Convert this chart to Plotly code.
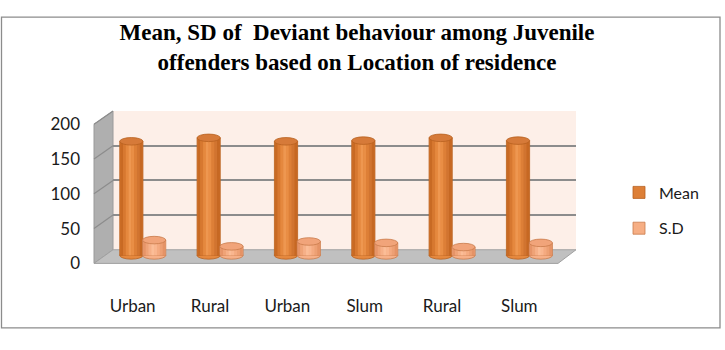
import plotly.graph_objects as go

# ---------------- data ----------------
categories = ["Urban", "Rural", "Urban", "Slum", "Rural", "Slum"]
mean_values = [164, 169, 164, 165, 169, 165]
sd_values = [22, 13, 20, 18, 12, 18]
y_ticks = [0, 50, 100, 150, 200]

W, H = 725, 350


def px(p):
    return p / W


def py(p):
    return 1 - p / H


# geometry of the pseudo-3D box (pixels)
FRONT_L, FRONT_R, FRONT_B, FRONT_T = 94, 558, 268.5, 120.5
BACK_L, BACK_R, BACK_B, BACK_T = 113, 576, 254, 106.5
positions = list(range(len(categories)))

fig = go.Figure()

# invisible anchor traces so the helper axes are drawn
fig.add_trace(go.Scatter(x=[0, 1], y=[0, 200], mode="markers", marker=dict(opacity=0),
                         hoverinfo="skip", showlegend=False, xaxis="x", yaxis="y"))
fig.add_trace(go.Scatter(x=positions, y=mean_values, mode="markers", marker=dict(opacity=0),
                         hoverinfo="skip", showlegend=False, xaxis="x3", yaxis="y3"))

BW = 0.30
series = [
    dict(name="Mean", vals=mean_values, off=-0.29, base="#DD7F37", line="#B8611F",
         grad=["#C86A24", "#D77830", "#E5883E", "#EE9750", "#E98E45", "#DD7F37",
               "#D17430", "#C66823"],
         top="#D67A39", topline="#B8611F"),
    dict(name="S.D", vals=sd_values, off=0.005, base="#F6AE84", line="#C97B4B",
         grad=["#E69468", "#EFA377", "#F6B088", "#FBBD97", "#F9B68F", "#F4AA80",
               "#EDA074", "#E59366"],
         top="#F1A47A", topline="#C97B4B"),
]

shapes = []
# outer border
shapes.append(dict(type="rect", xref="paper", yref="paper", x0=px(1.5), x1=px(720),
                   y0=py(337), y1=py(6.5), line=dict(color="#8C8C8C", width=1.3),
                   fillcolor="rgba(0,0,0,0)", layer="below"))
# back wall
shapes.append(dict(type="rect", xref="paper", yref="paper", x0=px(BACK_L), x1=px(BACK_R),
                   y0=py(BACK_B), y1=py(BACK_T), line=dict(width=0),
                   fillcolor="#FDEFE8", layer="below"))
# left wall
shapes.append(dict(type="path", xref="paper", yref="paper",
                   path=f"M{px(FRONT_L)},{py(FRONT_B)} L{px(FRONT_L)},{py(FRONT_T)} "
                        f"L{px(BACK_L)},{py(BACK_T)} L{px(BACK_L)},{py(BACK_B)} Z",
                   fillcolor="#AFAFAF", line=dict(color="#9A9A9A", width=1), layer="below"))
# floor
shapes.append(dict(type="path", xref="paper", yref="paper",
                   path=f"M{px(FRONT_L)},{py(FRONT_B)} L{px(BACK_L)},{py(BACK_B)} "
                        f"L{px(BACK_R)},{py(BACK_B)} L{px(FRONT_R)},{py(FRONT_B)} Z",
                   fillcolor="#C0C0C0", line=dict(color="#A0A0A0", width=1), layer="below"))
# diagonal gridlines on the left wall, from the tick values
for t in y_ticks[1:]:
    yf = FRONT_B - (FRONT_B - FRONT_T) * t / 200
    yb = BACK_B - (BACK_B - BACK_T) * t / 200
    shapes.append(dict(type="line", xref="paper", yref="paper", x0=px(FRONT_L), y0=py(yf),
                       x1=px(BACK_L), y1=py(yb), line=dict(color="#8C8C8C", width=1.2),
                       layer="below"))

RY = 5.4  # half height of the cylinder ellipses, in data units
for s in series:
    # cylinder body (legend entry)
    fig.add_trace(go.Bar(x=positions, y=s["vals"], width=BW, offset=s["off"], name=s["name"],
                         marker=dict(color=s["base"], line=dict(color=s["line"], width=0.8)),
                         legendgroup=s["name"], xaxis="x2", yaxis="y2"))
    # gradient strips for the cylinder look
    n = len(s["grad"])
    sw = BW * 0.96 / n
    for k, c in enumerate(s["grad"]):
        fig.add_trace(go.Bar(x=positions, y=s["vals"], width=sw * 1.04,
                             offset=s["off"] + BW * 0.02 + k * sw,
                             marker=dict(color=c, line=dict(width=0)), showlegend=False,
                             hoverinfo="skip", legendgroup=s["name"], xaxis="x2", yaxis="y2"))
    for p, v in zip(positions, s["vals"]):
        x0 = p + s["off"]
        x1 = x0 + BW
        # rounded bottom
        shapes.append(dict(type="circle", xref="x2", yref="y2", x0=x0, x1=x1, y0=-RY, y1=RY,
                           fillcolor=s["grad"][2], line=dict(color=s["line"], width=0.8),
                           layer="below"))
        # top face
        shapes.append(dict(type="circle", xref="x2", yref="y2", x0=x0, x1=x1, y0=v - RY,
                           y1=v + RY, fillcolor=s["top"],
                           line=dict(color=s["topline"], width=0.8), layer="above"))

axis_off = dict(showgrid=False, zeroline=False, showline=False, showticklabels=False, ticks="")

fig.update_layout(
    width=W, height=H, autosize=False,
    margin=dict(l=0, r=0, t=0, b=0),
    paper_bgcolor="white", plot_bgcolor="rgba(0,0,0,0)",
    barmode="overlay",
    font=dict(family="Lato", size=17, color="#1A1A1A"),
    title=dict(text="<b>Mean, SD of\u00a0 Deviant behaviour among Juvenile<br>"
                    "offenders based on Location of residence</b>",
               x=px(357), xanchor="center", y=py(40), yanchor="top",
               font=dict(family="Liberation Serif", size=23, color="#000000")),
    # back-wall gridlines
    xaxis=dict(domain=[px(BACK_L), px(BACK_R)], range=[0, 1], anchor="y", **axis_off),
    yaxis=dict(domain=[py(BACK_B), py(BACK_T)], range=[0, 200], tickvals=y_ticks,
               showgrid=True, gridcolor="#8C8C8C", gridwidth=1.5, zeroline=False,
               showline=False, showticklabels=False, ticks="", anchor="x"),
    # bars (mid depth)
    xaxis2=dict(domain=[px(103.5), px(567.5)], range=[-0.5, 5.5], anchor="y2", **axis_off),
    yaxis2=dict(domain=[py(267.4), py(112)], range=[-10, 200], anchor="x2", **axis_off),
    # front-edge labels
    xaxis3=dict(domain=[px(FRONT_L), px(FRONT_R)], range=[-0.5, 5.5], tickvals=positions,
                ticktext=categories, anchor="free", position=py(301), showgrid=False,
                zeroline=False, showline=False, ticks="", tickfont=dict(size=17, color="#1A1A1A")),
    yaxis3=dict(domain=[py(FRONT_B), py(FRONT_T)], range=[0, 200], tickvals=y_ticks,
                anchor="free", position=px(80), showgrid=False, zeroline=False,
                showline=False, ticks="", tickfont=dict(size=17, color="#1A1A1A")),
    legend=dict(x=px(619), y=py(175), xanchor="left", yanchor="top",
                bgcolor="rgba(0,0,0,0)", traceorder="grouped", tracegroupgap=12,
                font=dict(family="Lato", size=16, color="#1A1A1A")),
    shapes=shapes,
)

fig.write_html("out.html")
